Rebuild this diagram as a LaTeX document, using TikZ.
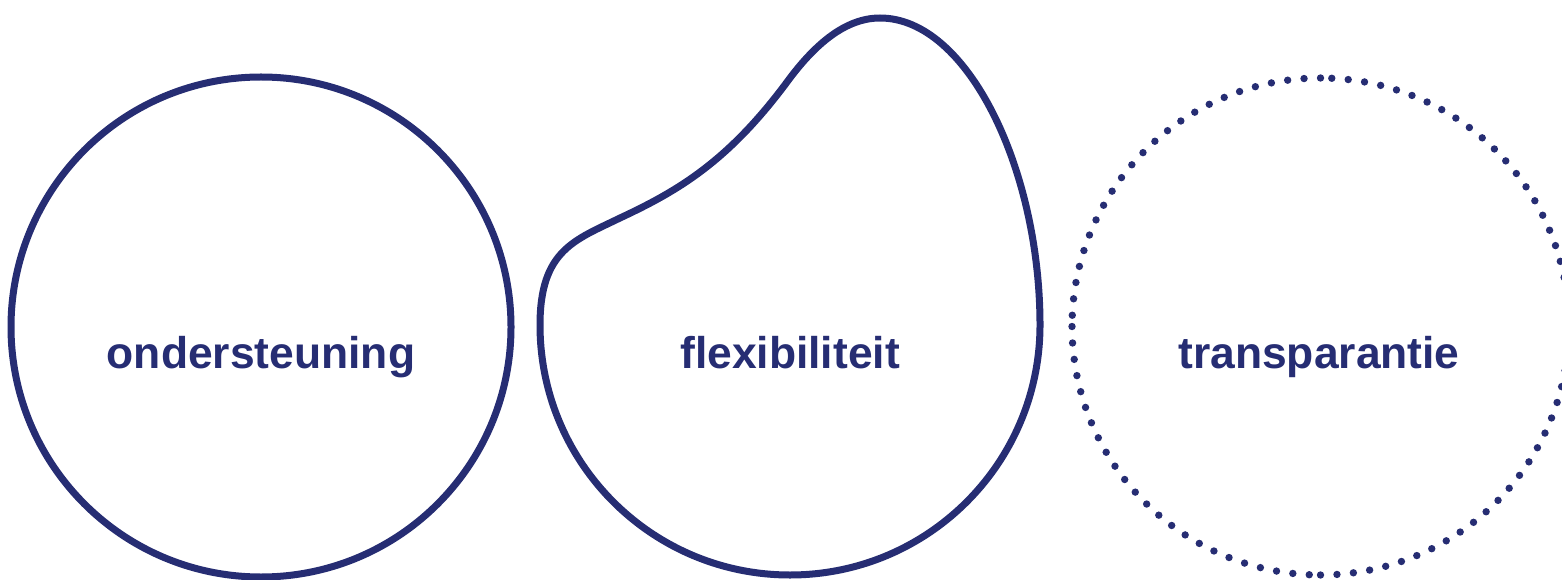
\documentclass[tikz,border=0pt]{standalone}
\usepackage{fontspec}
\setmainfont{Liberation Sans}
\definecolor{navy}{RGB}{38,45,115}
\tikzset{
  shapeline/.style={draw=navy, line width=3.5pt},
  lbl/.style={text=navy, font=\fontsize{22.2}{26}\selectfont\bfseries, anchor=base, inner sep=0pt},
  dotmark/.style={fill=navy, draw=none}
}
\begin{document}
\begin{tikzpicture}[x=0.5pt,y=0.5pt]
\useasboundingbox (0,0) rectangle (1562,579);
% circle 1
\draw[shapeline] (261,252) circle[radius=250];
% blob
\draw[shapeline] (880,561)
  .. controls (845,561) and (815,534) .. (790,501)
  .. controls (730,419) and (680,389) .. (620,361)
  .. controls (575,339) and (540,329) .. (540,254)
  arc[start angle=180, end angle=360, radius=250]
  .. controls (1040,409) and (968,561) .. (880,561) -- cycle;
% dotted circle
\foreach \q in {0,1,2,3}{
  \foreach \i in {0,...,23}{
    \fill[dotmark] ({1320.5+248.5*cos(\q*90+\i*3.8)},{252.5+248.5*sin(\q*90+\i*3.8)}) circle[radius=3.7];
  }
}
\node[lbl] (ond) at (261,211) {ondersteuning};
\node[lbl] (flex) at (790,211) {flexibiliteit};
\node[lbl] (trans) at (1319,211) {transparantie};
\end{tikzpicture}
\end{document}
